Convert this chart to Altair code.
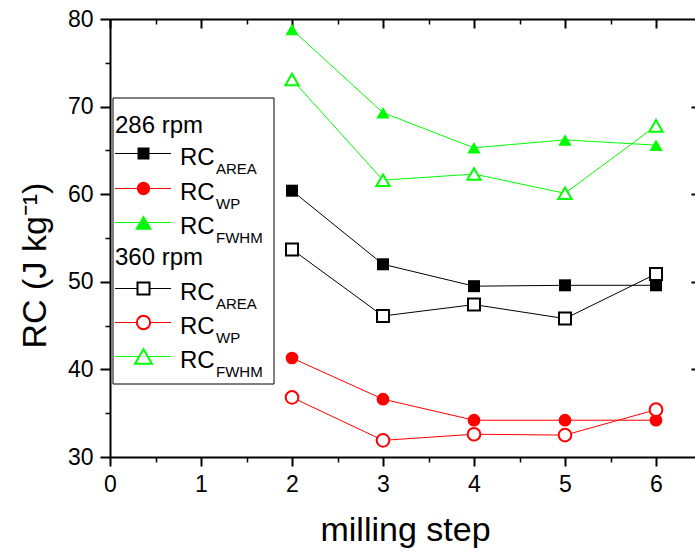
import altair as alt
import pandas as pd

# ---------------- data ----------------
steps = [2, 3, 4, 5, 6]
rc_area_286 = [60.4, 52.0, 49.5, 49.6, 49.6]
rc_wp_286 = [41.3, 36.6, 34.2, 34.2, 34.2]
rc_fwhm_286 = [78.8, 69.3, 65.3, 66.2, 65.6]
rc_area_360 = [53.7, 46.1, 47.4, 45.8, 50.9]
rc_wp_360 = [36.8, 31.9, 32.6, 32.5, 35.4]
rc_fwhm_360 = [73.1, 61.6, 62.3, 60.1, 67.8]

kinds = ["AREA", "WP", "FWHM"]
speeds = ["286 rpm", "360 rpm"]
x_major = [0, 1, 2, 3, 4, 5, 6]
x_minor = [0.5, 1.5, 2.5, 3.5, 4.5, 5.5]
y_major = [30, 40, 50, 60, 70, 80]
y_minor = [35, 45, 55, 65, 75]
y_right = [40, 50, 60, 70]
x_title = "milling step"
y_title = "RC (J kg\u207b\u00b9)"
legend_main = "RC"

# ---------------- styles ----------------
kind_colors = ["#000000", "#ff0000", "#00ff00"]
kind_shapes = ["square", "circle", "triangle-up"]
kind_sizes = [144, 177, 289]
FONT = "Liberation Sans"

series = {
    ("AREA", "286 rpm"): rc_area_286,
    ("WP", "286 rpm"): rc_wp_286,
    ("FWHM", "286 rpm"): rc_fwhm_286,
    ("AREA", "360 rpm"): rc_area_360,
    ("WP", "360 rpm"): rc_wp_360,
    ("FWHM", "360 rpm"): rc_fwhm_360,
}
rows = []
for (k, s), vals in series.items():
    for st, v in zip(steps, vals):
        rows.append({"step": st, "rc": v, "kind": k, "speed": s})
df = pd.DataFrame(rows)

W, H = 585, 438
X_DOM = [0, W / 91.0]
xs = alt.Scale(domain=X_DOM, nice=False, zero=False)
ys = alt.Scale(domain=[30, 80], nice=False, zero=False)

color = alt.Color("kind:N", scale=alt.Scale(domain=kinds, range=kind_colors), legend=None)
stroke = alt.Stroke("kind:N", scale=alt.Scale(domain=kinds, range=kind_colors), legend=None)
shape = alt.Shape("kind:N", scale=alt.Scale(domain=kinds, range=kind_shapes), legend=None)
size = alt.Size("kind:O", scale=alt.Scale(domain=kinds, range=kind_sizes), legend=None)

x_main_axis = alt.Axis(
    orient="bottom", values=x_major, tickSize=9, tickWidth=2, domainWidth=2,
    labelFontSize=23, labelBaseline="alphabetic", labelPadding=25, labelFlush=False,
    title=x_title, titleFontSize=34, titleX=295, titleY=83,
    titleBaseline="alphabetic", titleAlign="center", grid=False,
)
y_main_axis = alt.Axis(
    orient="left", values=y_major, tickSize=10, tickWidth=2, domainWidth=2,
    labelFontSize=23, labelPadding=7, labelFlush=False, format="d",
    title=y_title, titleFontSize=34, titleX=-65, titleY=246, titleAngle=270,
    titleBaseline="alphabetic", titleAlign="center", grid=False,
)

base = alt.Chart(df)
X = alt.X("step:Q", scale=xs, axis=x_main_axis)
Y = alt.Y("rc:Q", scale=ys, axis=y_main_axis)

lines = base.mark_line(strokeWidth=1).encode(x=X, y=Y, color=color, detail="speed:N")
filled_pts = base.transform_filter(alt.datum.speed == speeds[0]).mark_point(
    filled=True, opacity=1, strokeWidth=0
).encode(x=X, y=Y, color=color, shape=shape, size=size)
open_pts = base.transform_filter(alt.datum.speed == speeds[1]).mark_point(
    filled=False, opacity=1, strokeWidth=2
).encode(x=X, y=Y, stroke=stroke, fill=alt.value("white"), shape=shape, size=size)

data_layer = alt.layer(lines, filled_pts, open_pts)


def ax_layer(xaxis, yaxis):
    return base.mark_point(opacity=0).encode(
        x=alt.X("step:Q", scale=xs, axis=xaxis),
        y=alt.Y("rc:Q", scale=ys, axis=yaxis),
    )


no_lab = dict(labels=False, title=None, grid=False)
ax_minor = ax_layer(
    alt.Axis(orient="bottom", values=x_minor, tickSize=5, tickWidth=1.5, domain=False, **no_lab),
    alt.Axis(orient="left", values=y_minor, tickSize=5, tickWidth=1.5, domain=False, **no_lab),
)
ax_top_right = ax_layer(
    alt.Axis(orient="top", ticks=False, domain=True, domainWidth=2, **no_lab),
    alt.Axis(orient="right", values=y_right, tickSize=4, tickWidth=2, offset=-4, domain=False, **no_lab),
)
ax_top_major = ax_layer(
    alt.Axis(orient="top", values=x_major, tickSize=9, tickWidth=2, offset=-9, domain=False, **no_lab),
    None,
)
ax_top_minor = ax_layer(
    alt.Axis(orient="top", values=x_minor, tickSize=5, tickWidth=1.5, offset=-5, domain=False, **no_lab),
    None,
)

# ---------------- legend (drawn inside the plot) ----------------
one = pd.DataFrame({"t": [""]})
legend_layers = [
    alt.Chart(one).mark_rect(fill="white", stroke="black", strokeWidth=1).encode(
        x=alt.value(3), x2=alt.value(164), y=alt.value(79), y2=alt.value(365)
    )
]
head_y = [113.5, 246]
row_y = [[134.5, 169.5, 203.5], [269.5, 303.5, 337.5]]
for gi, sp in enumerate(speeds):
    legend_layers.append(
        alt.Chart(pd.DataFrame({"t": [sp]})).mark_text(
            font=FONT, fontSize=24, align="left", baseline="alphabetic", color="black"
        ).encode(x=alt.value(5), y=alt.value(head_y[gi]), text="t:N")
    )
    for ki, k in enumerate(kinds):
        ry = row_y[gi][ki]
        col = kind_colors[ki]
        legend_layers.append(
            alt.Chart(one).mark_rule(color=col, strokeWidth=1).encode(
                x=alt.value(5), x2=alt.value(61), y=alt.value(ry)
            )
        )
        if gi == 0:
            pt = alt.Chart(one).mark_point(
                shape=kind_shapes[ki], size=kind_sizes[ki], filled=True,
                color=col, opacity=1, strokeWidth=0,
            )
        else:
            pt = alt.Chart(one).mark_point(
                shape=kind_shapes[ki], size=kind_sizes[ki], filled=False,
                stroke=col, fill="white", opacity=1, strokeWidth=2,
            )
        legend_layers.append(pt.encode(x=alt.value(33.5), y=alt.value(ry)))
        legend_layers.append(
            alt.Chart(pd.DataFrame({"t": [legend_main]})).mark_text(
                font=FONT, fontSize=24, align="left", baseline="alphabetic", color="black"
            ).encode(x=alt.value(70), y=alt.value(ry + 11), text="t:N")
        )
        legend_layers.append(
            alt.Chart(pd.DataFrame({"t": [k]})).mark_text(
                font=FONT, fontSize=15, align="left", baseline="alphabetic", color="black"
            ).encode(x=alt.value(106), y=alt.value(ry + 20.5), text="t:N")
        )

chart = alt.layer(
    data_layer, ax_minor, ax_top_right, ax_top_major, ax_top_minor, *legend_layers
).resolve_scale(
    x="independent", y="independent"
).properties(
    width=W, height=H,
    padding={"left": 110, "top": 19, "right": 0, "bottom": 102},
    autosize=alt.AutoSizeParams(type="none"),
).configure_view(
    stroke=None
).configure_axis(
    labelFont=FONT, titleFont=FONT, labelColor="black", titleColor="black",
    domainColor="black", tickColor="black", titleFontWeight="normal",
).configure_text(font=FONT)

chart.save("out.html", embed_options={"renderer": "svg", "actions": False})
